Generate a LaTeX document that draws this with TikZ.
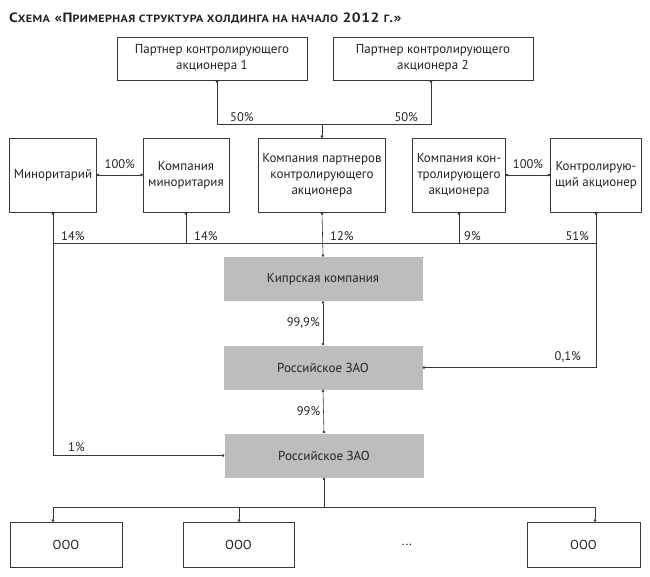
\documentclass[tikz,border=0pt]{standalone}
\usepackage{fontspec}
\setmainfont{PT Sans}
\newfontfamily\titlefont{PT Sans}[FakeStretch=1.15, LetterSpace=4]
\usepackage{tikz}
\usetikzlibrary{
  arrows.meta,
  positioning
}
\definecolor{boxgray}{RGB}{189,189,189}
\definecolor{linegray}{RGB}{55,55,55}
\definecolor{textgray}{RGB}{35,35,35}
\newcommand{\minicaps}[1]{{\fontsize{10.5}{12}\selectfont #1}}
\tikzset{font=\fontsize{13}{16}\selectfont, text=textgray}
\tikzset{
  box/.style={draw=linegray, line width=0.6pt, fill=white, align=center, inner sep=2pt},
  graybox/.style={fill=boxgray, align=center, minimum width=199pt, minimum height=44pt},
  link/.style={draw=linegray, line width=0.6pt},
  dotboth/.style={link, {Circle[length=2.6pt]}-{Circle[length=2.6pt]}},
  dotstart/.style={link, {Circle[length=2.6pt]}-},
  dotend/.style={link, -{Circle[length=2.6pt]}},
  pct/.style={inner sep=1pt, font=\fontsize{12.5}{14}\selectfont}
}

\begin{document}
\begin{tikzpicture}[x=1pt, y=-1pt]
  \useasboundingbox (0,0) rectangle (650,576);
  % title
  \node[anchor=west, inner sep=0pt, font=\titlefont\bfseries\fontsize{13.5}{15}\selectfont] (title) at (9,18)
    {С\minicaps{ХЕМА} «П\minicaps{РИМЕРНАЯ СТРУКТУРА ХОЛДИНГА НА НАЧАЛО} 2012 \minicaps{Г}.»};
  % partners
  \node[box, minimum width=190pt, minimum height=43pt] (p1) at (212,58.5) {Партнер контролирующего\\акционера 1};
  \node[box, minimum width=200pt, minimum height=43pt] (p2) at (433,58.5) {Партнер контролирующего\\акционера 2};
  % second row
  \node[box, minimum width=87pt, minimum height=74pt] (minor) at (53,175) {Миноритарий};
  \node[box, minimum width=86pt, minimum height=74pt] (mincomp) at (186,175) {Компания\\миноритария};
  \node[box, minimum width=127pt, minimum height=74pt] (partcomp) at (322,175) {Компания партнеров\\контролирующего\\акционера};
  \node[box, minimum width=93pt, minimum height=74pt] (ctrlcomp) at (459,175) {Компания кон-\\тролирующего\\акционера};
  \node[box, minimum width=91pt, minimum height=74pt] (ctrl) at (596,175) {Контролирую-\\щий акционер};
  % gray chain
  \node[graybox] (cyprus) at (323,279) {Кипрская компания};
  \node[graybox] (zao1) at (323,367.5) {Российское ЗАО};
  \node[graybox] (zao2) at (324,455.5) {Российское ЗАО};
  % bottom row
  \node[box, minimum width=112pt, minimum height=45pt] (ooo1) at (66,544.5) {ООО};
  \node[box, minimum width=111pt, minimum height=45pt] (ooo2) at (238.5,544.5) {ООО};
  \node (more) at (407,545) {...};
  \node[box, minimum width=113pt, minimum height=45pt] (ooo3) at (583.5,544.5) {ООО};

  % partners -> company of partners
  \coordinate (j1) at (217,124);
  \coordinate (j2) at (431,124);
  \draw[dotboth] (j1 |- p1.south) -- (j1) -- (j2) -- (j2 |- p2.south);
  \draw[dotend] (partcomp.north |- j1) -- (partcomp.north);
  \node[pct, above right=1pt and 12pt of j1] (l50a) {50\%};
  \node[pct, above left=1pt and 12pt of j2] (l50b) {50\%};

  % 100% links
  \draw[dotboth] (minor.east) -- (mincomp.west) node[pct, midway, above=5pt] (l100a) {100\%};
  \draw[dotboth] (ctrlcomp.east) -- (ctrl.west) node[pct, midway, above=5pt] (l100b) {100\%};

  % bus to Cyprus
  \coordinate (bus) at (0,243);
  \draw[link] (minor.south |- bus) -- (ctrl.south |- bus);
  \draw[dotboth] (minor.south) |- (zao2.west);
  \draw[dotstart] (mincomp.south) -- (mincomp.south |- bus);
  \draw[dotboth] (partcomp.south) -- (cyprus.north);
  \draw[dotstart] (ctrlcomp.south) -- (ctrlcomp.south |- bus);
  \draw[dotboth] (ctrl.south) |- (zao1.east);
  \node[pct, above right=1pt and 7pt of minor.south |- bus] (l14a) {14\%};
  \node[pct, above right=1pt and 7pt of mincomp.south |- bus] (l14b) {14\%};
  \node[pct, above right=1pt and 7pt of partcomp.south |- bus] (l12) {12\%};
  \node[pct, above right=1pt and 4pt of ctrlcomp.south |- bus] (l9) {9\%};
  \node[pct, above left=1pt and 6pt of ctrl.south |- bus] (l51) {51\%};
  \node[pct, above right=3pt and 14pt of minor.south |- zao2.west] (l1) {1\%};
  \node[pct, above left=4pt and 14pt of ctrl.south |- zao1.east] (l01) {0,1\%};

  % chain
  \draw[dotboth] (cyprus.south) -- (zao1.north) node[pct, midway, left=2pt] (l999) {99,9\%};
  \draw[dotboth] (zao1.south) -- (zao2.north) node[pct, midway, left=2pt] (l99) {99\%};

  % subsidiaries
  \coordinate (b1) at (53,507);
  \coordinate (b2) at (239,507);
  \coordinate (b3) at (595,507);
  \draw[dotstart] (zao2.south) -- (zao2.south |- b1);
  \draw[link] (b1) -- (b3);
  \draw[dotend] (b1) -- (b1 |- ooo1.north);
  \draw[dotend] (b2) -- (b2 |- ooo2.north);
  \draw[dotend] (b3) -- (b3 |- ooo3.north);
\end{tikzpicture}
\end{document}
